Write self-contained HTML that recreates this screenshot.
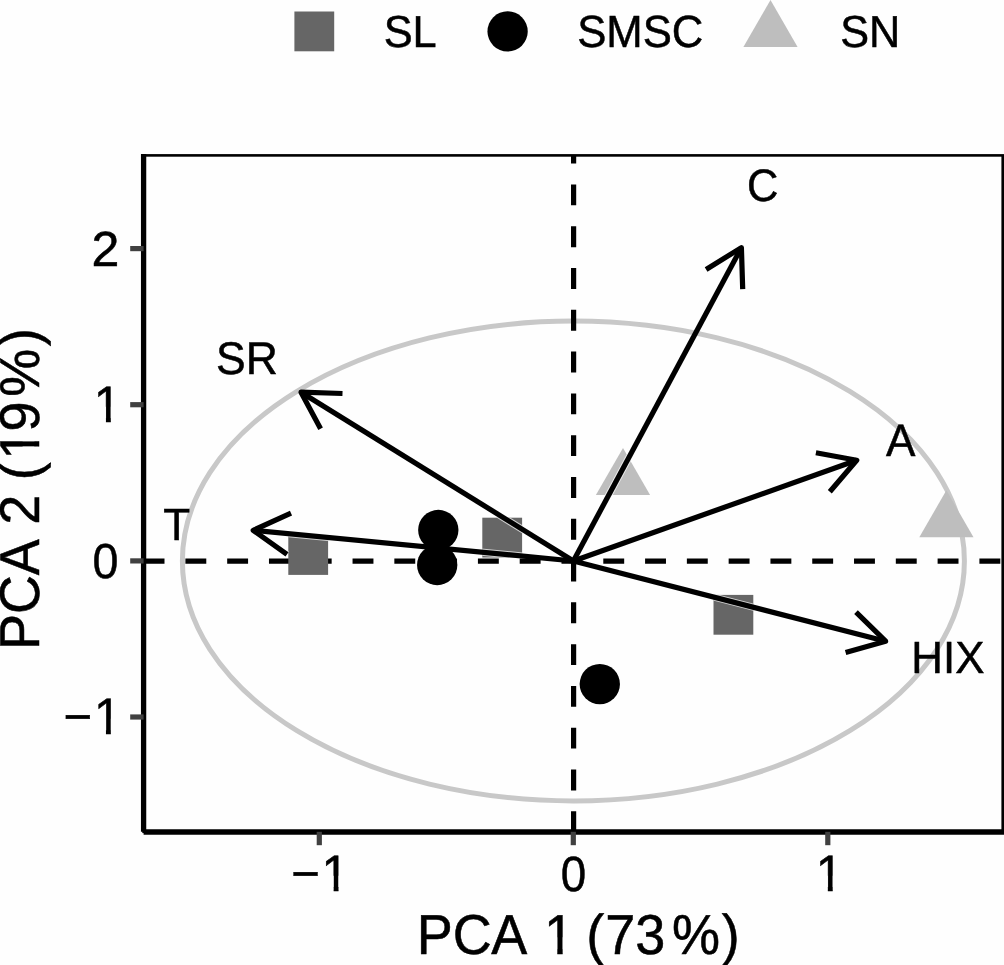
<!DOCTYPE html>
<html lang="en"><head><meta charset="utf-8"><title>PCA biplot</title>
<style>
html,body{margin:0;padding:0;background:#fff;}
body{width:1004px;height:965px;overflow:hidden;}
svg{display:block;}
text{font-family:"Liberation Sans",sans-serif;fill:#000;font-kerning:none;text-rendering:geometricPrecision;stroke:#000;stroke-width:0.5px;}
</style></head>
<body>
<svg width="1004" height="965" viewBox="0 0 1004 965">
<rect width="1004" height="965" fill="#fefefe"/>
<defs>
<clipPath id="c1"><path clip-rule="evenodd" d="M-9.8 -49.0H37.0V19.6H-9.8ZM1.67 -14.70H13.74V2.45H1.67ZM18.60 -14.70H28.91V2.45H18.60Z"/></clipPath>
<clipPath id="cm1"><path clip-rule="evenodd" d="M-9.8 -49.0H65.7V19.6H-9.8ZM30.28 -14.70H42.36V2.45H30.28ZM47.21 -14.70H57.53V2.45H47.21Z"/></clipPath>
<clipPath id="ct1"><path clip-rule="evenodd" d="M-10.8 -54.0H340.2V21.6H-10.8ZM127.59 -16.20H140.90V2.70H127.59ZM146.25 -16.20H157.61V2.70H146.25Z"/></clipPath><clipPath id="ct2"><path clip-rule="evenodd" d="M-10.8 -54.0H340.2V21.6H-10.8ZM190.39 -16.20H203.70V2.70H190.39ZM209.05 -16.20H220.41V2.70H209.05Z"/></clipPath>
</defs>
<g fill="#666"><rect x="294.4" y="11.5" width="39.8" height="39.8"/></g>
<circle cx="507.6" cy="31.4" r="20.15" fill="#000"/>
<g fill="#bebebe"><polygon points="770.5,0.1 797.6,47.0 743.4,47.0"/></g>
<ellipse cx="573.4" cy="561" rx="391" ry="239.9" fill="none" stroke="#c8c8c8" stroke-width="5.0"/>
<g stroke="#000" stroke-width="5.2" stroke-dasharray="20.895 20.895" fill="none">
<path d="M573.6 832.2L573.6 155.4"/>
<path d="M143.6 561.1L1002.7 561.1"/>
</g>
<g fill="#666"><rect x="288.3" y="535.1" width="39.8" height="39.8"/><rect x="482.3" y="517.7" width="39.8" height="39.8"/><rect x="713.5" y="594.9" width="39.8" height="39.8"/></g>
<g fill="#bebebe"><polygon points="623.0,448.1 650.1,495.0 595.9,495.0"/><polygon points="946.4,490.3 973.5,537.2 919.3,537.2"/></g>
<g fill="#000"><circle cx="438.3" cy="530" r="20.15"/><circle cx="437.2" cy="565" r="20.15"/><circle cx="599.8" cy="684.1" r="20.15"/></g>
<clipPath id="shp"><rect x="288.3" y="535.1" width="39.8" height="39.8"/><rect x="482.3" y="517.7" width="39.8" height="39.8"/><rect x="713.5" y="594.9" width="39.8" height="39.8"/><polygon points="623.0,448.1 650.1,495.0 595.9,495.0"/><polygon points="946.4,490.3 973.5,537.2 919.3,537.2"/></clipPath>
<g clip-path="url(#shp)" stroke="#fff" stroke-opacity="0.7" stroke-width="7.2" fill="none" stroke-linejoin="round">
<path d="M573.4 561.0L741.4 247.6"/><path d="M742.7 289.1L741.4 247.6L706.1 269.5"/>
<path d="M573.4 561.0L301.0 392.2"/><path d="M342.5 393.5L301.0 392.2L320.6 428.8"/>
<path d="M573.4 561.0L253.2 530.3"/><path d="M291.0 513.1L253.2 530.3L287.0 554.4"/>
<path d="M573.4 561.0L856.7 460.2"/><path d="M829.8 491.8L856.7 460.2L815.9 452.7"/>
<path d="M573.4 561.0L885.6 641.2"/><path d="M845.6 652.4L885.6 641.2L856.0 612.2"/>
</g>
<g stroke="#000" stroke-width="5.2" fill="none" stroke-linejoin="round" stroke-linecap="butt">
<path d="M573.4 561.0L741.4 247.6"/><path d="M742.7 289.1L741.4 247.6L706.1 269.5"/>
<path d="M573.4 561.0L301.0 392.2"/><path d="M342.5 393.5L301.0 392.2L320.6 428.8"/>
<path d="M573.4 561.0L253.2 530.3"/><path d="M291.0 513.1L253.2 530.3L287.0 554.4"/>
<path d="M573.4 561.0L856.7 460.2"/><path d="M829.8 491.8L856.7 460.2L815.9 452.7"/>
<path d="M573.4 561.0L885.6 641.2"/><path d="M845.6 652.4L885.6 641.2L856.0 612.2"/>
</g>
<rect x="143.6" y="155.4" width="859.1" height="676.4" fill="none" stroke="#000" stroke-width="2.6"/>
<g stroke="#000" stroke-width="5.3" fill="none"><path d="M143.6 154.1L143.6 831.8"/><path d="M143.6 832.0L1004 832.0"/></g>
<g stroke="#404040" stroke-width="5.2" fill="none">
<path d="M130.2 248.6L143.6 248.6"/>
<path d="M130.2 404.7L143.6 404.7"/>
<path d="M130.2 560.9L143.6 560.9"/>
<path d="M130.2 717.0L143.6 717.0"/>
<path d="M319.3 831.8L319.3 845.2"/>
<path d="M573.3 831.8L573.3 845.2"/>
<path d="M827.8 831.8L827.8 845.2"/>
</g>
<text transform="matrix(0.9852 0 0 1.0194 383.65 46.64)" font-size="44">SL</text>
<text transform="matrix(0.9934 0 0 1.0256 577.13 46.74)" font-size="44">SMSC</text>
<text transform="matrix(0.9828 0 0 1.0194 840.25 46.64)" font-size="44">SN</text>
<text transform="matrix(1.0211 0 0 1.0048 91.54 265.65)" font-size="49">2</text>
<text transform="matrix(0.9521 0 0 1.0021 92.58 578.27)" font-size="49">0</text>
<text transform="matrix(0.9333 0 0 1.0106 560.66 890.56)" font-size="49">0</text>
<text transform="matrix(0.9873 0 0 1.0364 746.98 200.51)" font-size="44">C</text>
<text transform="matrix(1.0104 0 0 1.0384 216.05 373.83)" font-size="44">SR</text>
<text transform="matrix(1.0000 0 0 1.0269 163.37 539.54)" font-size="44">T</text>
<text transform="matrix(1.0029 0 0 1.0333 886.06 455.84)" font-size="44">A</text>
<text transform="matrix(0.9965 0 0 1.0267 911.32 673.24)" font-size="44">HIX</text>
<g transform="matrix(1 0 0 1.045 92.20 422.20)"><text clip-path="url(#c1)" x="1.67" y="0" font-size="49">1</text></g>
<g transform="matrix(1 0 0 1.045 63.60 734.10)"><text clip-path="url(#cm1)" x="0" y="0" font-size="49">−<tspan dx="1.67">1</tspan></text></g>
<g transform="matrix(1 0 0 1.045 291.30 891.10)"><text clip-path="url(#cm1)" x="0" y="0" font-size="49">−<tspan dx="1.67">1</tspan></text></g>
<g transform="matrix(1 0 0 1.045 814.10 891.10)"><text clip-path="url(#c1)" x="1.67" y="0" font-size="49">1</text></g>
<g transform="matrix(1 0 0 1.04 416.4 954.0)"><text clip-path="url(#ct1)" font-size="54" x="0.41 36.36 74.94 110.96 127.59 157.61 169.85 188.76 218.95 255.52 305.47" y="0">PCA 1 (73%)</text></g>
<g transform="translate(39.4 650.2) rotate(-90) scale(1 1.04)"><text clip-path="url(#ct2)" font-size="54" x="0.11 36.20 74.89 110.91 125.54 155.56 170.05 190.39 218.59 253.47 304.07" y="0">PCA 2 (19%)</text></g>
</svg>
</body></html>
